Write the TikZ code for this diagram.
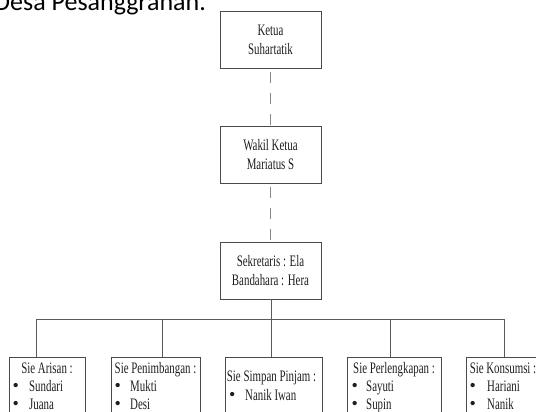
\documentclass[tikz,border=0pt]{standalone}
\usepackage{fontspec}
\setmainfont{Liberation Serif}[FakeStretch=0.68]
\newfontfamily\hdrfont{Carlito}
\newfontfamily\bulletfont{Liberation Serif}
\definecolor{boxgray}{HTML}{4A4A4A}
\definecolor{conngray}{HTML}{5A5A5A}
\definecolor{dashgray}{HTML}{8A8A8A}
\definecolor{txt}{HTML}{1E1E1E}
\begin{document}
\begin{tikzpicture}[x=1pt,y=-1pt,
  box/.style={draw=boxgray, line width=0.8pt, inner sep=0pt, rectangle},
  topbox/.style={box, minimum width=101pt, minimum height=57pt, align=center,
    font=\fontsize{16}{19}\selectfont, text=txt},
  sbox/.style={box, minimum height=58pt},
  lbl/.style={inner sep=0pt, font=\fontsize{16}{19}\selectfont, text=txt},
  bul/.style={inner sep=0pt, font=\bulletfont\fontsize{18}{19}\selectfont, text=txt, anchor=base west},
  conn/.style={draw=conngray, line width=0.8pt},
  dashline/.style={draw=dashgray, line width=1pt, dash pattern=on 11pt off 10pt, dash phase=17pt}
]
\useasboundingbox (0,0) rectangle (536,412);
\clip (0,0) rectangle (536,412);

% header text (cut at top)
\node[anchor=base west, inner sep=0pt, font=\hdrfont\fontsize{26}{30}\selectfont, text=black] (hdr) at (-6,11) {Desa Pesanggrahan.};

% top boxes
\node[topbox] (ketua) at (270.5,39.5) {Ketua\\Suhartatik};
\node[topbox] (wakil) at (270.5,154.5) {Wakil Ketua\\Mariatus S};
\node[topbox] (sek) at (270.5,270.5) {Sekretaris : Ela\\Bandahara : Hera};

\draw[dashline] (ketua.south) -- (wakil.north);
\draw[dashline] (wakil.south) -- (sek.north);

% bottom boxes
\node[sbox, minimum width=76pt] (s1) at (47,386) {};
\node[sbox, minimum width=89pt] (s2) at (155.5,386) {};
\node[sbox, minimum width=97pt] (s3) at (273.5,386) {};
\node[sbox, minimum width=94pt] (s4) at (394,386) {};
\node[sbox, minimum width=74pt] (s5) at (503,386) {};

% bus
\coordinate (j1) at (36,319);
\coordinate (j2) at (162,319);
\coordinate (j3) at (271,319);
\coordinate (j4) at (390,319);
\coordinate (j5) at (504,319);
\draw[conn] (j3 |- sek.south) -- (j3);
\draw[conn] (j1) -- (j5);
\foreach \i in {1,...,5} {\draw[conn] (j\i) -- (j\i |- s\i.north);}

% box 1
\node[lbl, anchor=base] (t1) at (47,373) {Sie Arisan :};
\node[bul] (b11) at (12.5,391) {•};
\node[lbl, anchor=base west] (n11) at (29,391) {Sundari};
\node[bul] (b12) at (12.5,409) {•};
\node[lbl, anchor=base west] (n12) at (29,409) {Juana};

% box 2
\node[lbl, anchor=base] (t2) at (155.5,373) {Sie Penimbangan :};
\node[bul] (b21) at (114.5,391) {•};
\node[lbl, anchor=base west] (n21) at (130,391) {Mukti};
\node[bul] (b22) at (114.5,409) {•};
\node[lbl, anchor=base west] (n22) at (130,409) {Desi};

% box 3
\node[lbl, anchor=base] (t3) at (271.5,381) {Sie Simpan Pinjam :};
\node[bul] (b31) at (229,400) {•};
\node[lbl, anchor=base west] (n31) at (245,400) {Nanik Iwan};

% box 4
\node[lbl, anchor=base] (t4) at (394,373) {Sie Perlengkapan :};
\node[bul] (b41) at (351.5,391) {•};
\node[lbl, anchor=base west] (n41) at (366,391) {Sayuti};
\node[bul] (b42) at (351.5,409) {•};
\node[lbl, anchor=base west] (n42) at (366,409) {Supin};

% box 5
\node[lbl, anchor=base] (t5) at (503,373) {Sie Konsumsi :};
\node[bul] (b51) at (469.5,391) {•};
\node[lbl, anchor=base west] (n51) at (487,391) {Hariani};
\node[bul] (b52) at (469.5,409) {•};
\node[lbl, anchor=base west] (n52) at (487,409) {Nanik};
\end{tikzpicture}
\end{document}
